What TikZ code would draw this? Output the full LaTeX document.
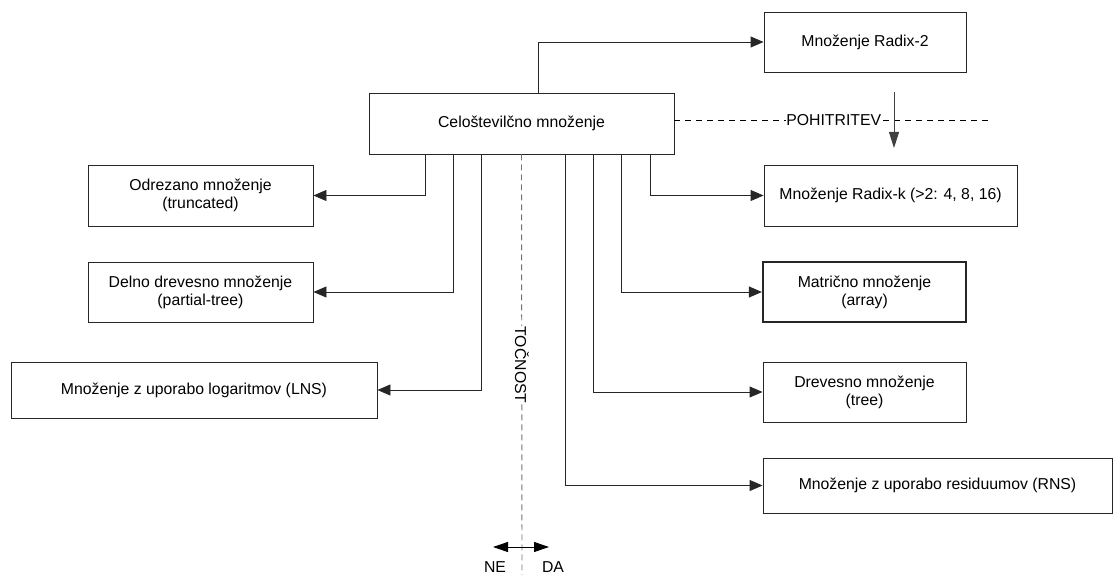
\documentclass[tikz,border=0pt]{standalone}
\usepackage{fontspec}
\setmainfont{Liberation Sans}
\usetikzlibrary{arrows.meta}
\begin{document}
\begin{tikzpicture}[x=1pt,y=-1pt,
  txt/.style={font=\fontsize{15.8}{18}\selectfont},
  box/.style={txt, draw=black!85, line width=0.9pt, align=center, inner sep=0pt},
  thickbox/.style={box, line width=2.2pt},
  conn/.style={draw=black!85, line width=0.9pt, -{Triangle[length=13pt,width=11pt]}},
  lbl/.style={txt, fill=white, inner sep=1pt}
]
\useasboundingbox (0,0) rectangle (1116,575);

% main node
\node[box, minimum width=305pt, minimum height=61pt] (main) at (521.5,123.5) {Celoštevilčno množenje};

% right-hand branch
\node[box, minimum width=202pt, minimum height=60pt] (r2) at (865,42) {Množenje Radix-2};
\node[box, minimum width=253pt, minimum height=61pt] (rk) at (890.5,195.5) {Množenje Radix-k (>2: 4, 8, 16)};
\node[thickbox, minimum width=203pt, minimum height=60pt] (arr) at (864.5,292) {Matrično množenje\\(array)};
\node[box, minimum width=203pt, minimum height=60pt] (tree) at (864.5,392) {Drevesno množenje\\(tree)};
\node[box, minimum width=349pt, minimum height=55pt] (rns) at (937.5,485.5) {Množenje z uporabo residuumov (RNS)};

% left-hand branch
\node[box, minimum width=225pt, minimum height=61pt] (odr) at (200.5,195.5) {Odrezano množenje\\(truncated)};
\node[box, minimum width=225pt, minimum height=60pt] (delno) at (200.5,292) {Delno drevesno množenje\\(partial-tree)};
\node[box, minimum width=366pt, minimum height=56pt] (lns) at (194,390) {Množenje z uporabo logaritmov (LNS)};

% connectors
\draw[conn] ([xshift=170pt]main.north west) |- (r2.west);
\draw[conn] ([xshift=57pt]main.south west) |- (odr.east);
\draw[conn] ([xshift=85pt]main.south west) |- (delno.east);
\draw[conn] ([xshift=113pt]main.south west) |- (lns.east);
\draw[conn] ([xshift=197pt]main.south west) |- (rns.west);
\draw[conn] ([xshift=225pt]main.south west) |- (tree.west);
\draw[conn] ([xshift=253pt]main.south west) |- (arr.west);
\draw[conn] ([xshift=282pt]main.south west) |- (rk.west);

% speed-up axis
\coordinate (pEnd) at (993,120);
\draw[black, line width=0.9pt, dash pattern=on 6pt off 5pt] (main.east |- pEnd) -- node[lbl, inner sep=0.5pt] (poh) {POHITRITEV} (pEnd);
\coordinate (sTop) at (894,92);
\coordinate (sBot) at (894,148);
\draw[black!75, line width=0.9pt, -{Triangle[length=16pt,width=10pt]}] (sTop) -- (sBot);

% accuracy axis
\coordinate (aEnd) at (522,575);
\draw[black!55, line width=0.9pt, dash pattern=on 6pt off 4pt] (main.south) -- (aEnd);
\node[lbl, rotate=-90] (toc) at (522,365) {TOČNOST};
\coordinate (ne) at (493,547);
\coordinate (da) at (549,547);
\draw[black, line width=0.9pt, {Triangle[length=15pt,width=10pt]}-{Triangle[length=15pt,width=10pt]}] (ne) -- (da);
\node[txt, inner sep=0pt] (neL) at (495,567.5) {NE};
\node[txt, inner sep=0pt] (daL) at (553,567.5) {DA};
\end{tikzpicture}
\end{document}
